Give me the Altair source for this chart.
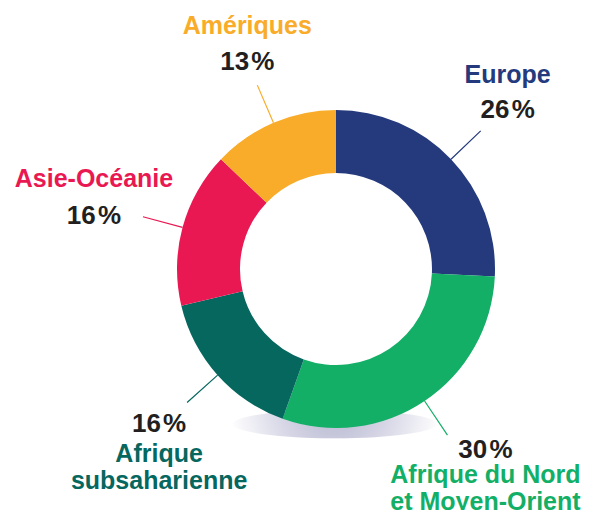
import math
import altair as alt
import pandas as pd

# ---- data ----
regions = ["Europe", "Afrique du Nord et Moyen-Orient", "Afrique subsaharienne",
           "Asie-Océanie", "Amériques"]
name_lines = [["Europe"], ["Afrique du Nord", "et Moyen-Orient"],
              ["Afrique", "subsaharienne"], ["Asie-Océanie"], ["Amériques"]]
shares = [26, 30, 16, 16, 13]
colors = ["#243a7d", "#13af67", "#06675f", "#ea1852", "#f9ac2a"]

# ---- label layout (offsets from leader-line end: dx, name baseline dy, pct baseline dy) ----
label_dx = [27, 38, -28, -49, -10]
name_dy = [-48, 48, 59, -30, -51]
pct_dy = [-13, 23, 29, 7, -15]

FONT = "Liberation Sans"
CX, CY = 328, 261
R_IN, R_OUT, R_LEAD = 96, 159, 200

df = pd.DataFrame({"region": regions, "share": shares})
df["lines"] = name_lines
df["end"] = df["share"].cumsum()
df["start"] = df["end"] - df["share"]
df["mid"] = (df["start"] + df["end"]) / 2
df["pct"] = [f"{v}\u200a%" for v in shares]
total = float(sum(shares))

theta_scale = alt.Scale(domain=[0, total], range=[0, 2 * math.pi])
color_scale = alt.Scale(domain=regions, range=colors)

base = alt.Chart(df)

# soft shadow ellipse under the donut
shadow = alt.Chart(pd.DataFrame({"s": [1]})).mark_point(
    shape="M -1 0 A 1 0.14 0 1 0 1 0 A 1 0.14 0 1 0 -1 0 Z",
    size=204 ** 2,
    filled=True,
    opacity=1,
    strokeOpacity=0,
    fill=alt.RadialGradient(
        gradient="radial",
        stops=[alt.GradientStop(offset=0, color="#b6b6d0"),
               alt.GradientStop(offset=0.5, color="#d6d6e6"),
               alt.GradientStop(offset=1, color="#ffffff")],
        x1=0.5, y1=0.42, r1=0, x2=0.5, y2=0.42, r2=0.52,
    ),
).encode(x=alt.value(CX - 1), y=alt.value(416))

arcs = base.mark_arc(innerRadius=R_IN, outerRadius=R_OUT).encode(
    theta=alt.Theta("start:Q", scale=theta_scale, stack=None),
    theta2="end:Q",
    color=alt.Color("region:N", scale=color_scale, legend=None),
    x=alt.value(CX), y=alt.value(CY),
)

leaders = base.mark_arc(innerRadius=R_OUT, outerRadius=R_LEAD, filled=False,
                        strokeWidth=1.2).encode(
    theta=alt.Theta("mid:Q", scale=theta_scale, stack=None),
    theta2="mid:Q",
    color=alt.Color("region:N", scale=color_scale, legend=None),
    x=alt.value(CX), y=alt.value(CY),
)

layers = [shadow, arcs, leaders]
for i, r in enumerate(regions):
    sub = base.transform_filter(alt.datum.region == r)
    name_t = sub.mark_text(
        font=FONT, fontSize=25, fontWeight="bold", align="center",
        baseline="alphabetic", lineHeight=27, color=colors[i],
        dx=label_dx[i], dy=name_dy[i],
    ).encode(
        theta=alt.Theta("mid:Q", scale=theta_scale, stack=None),
        radius=alt.value(R_LEAD),
        text=alt.Text("lines"),
        x=alt.value(CX), y=alt.value(CY),
    )
    pct_t = sub.mark_text(
        font=FONT, fontSize=26, fontWeight="bold", align="center",
        baseline="alphabetic", color="#231f20",
        dx=label_dx[i], dy=pct_dy[i],
    ).encode(
        theta=alt.Theta("mid:Q", scale=theta_scale, stack=None),
        radius=alt.value(R_LEAD),
        text=alt.Text("pct:N"),
        x=alt.value(CX), y=alt.value(CY),
    )
    layers += [name_t, pct_t]

chart = alt.layer(*layers).properties(
    width=580, height=502, autosize=alt.AutoSizeParams(type="none"), padding=0,
    background="white",
).configure_view(stroke=None)

chart.save("out.html", embed_options={"renderer": "svg", "actions": False})
